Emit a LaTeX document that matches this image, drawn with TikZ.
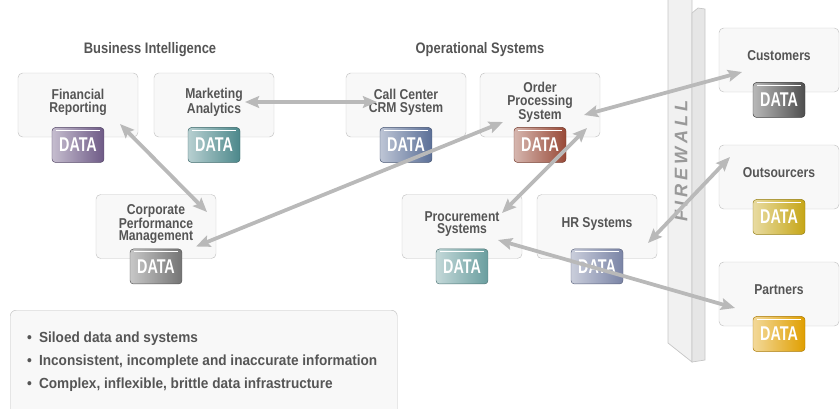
\documentclass[tikz,border=0pt]{standalone}
\usepackage{fontspec}
\setmainfont{Liberation Sans}[FakeStretch=0.85]
\newfontfamily\datafont{Liberation Sans}[FakeStretch=0.72]
\newfontfamily\notefont{Liberation Sans}[FakeStretch=0.93]
\newfontfamily\wallfont{Liberation Sans}[LetterSpace=22]
\usetikzlibrary{arrows.meta,positioning,calc}

\definecolor{labelgray}{HTML}{555555}
\definecolor{boxfill}{HTML}{F8F8F8}
\definecolor{boxline}{HTML}{C4C4C4}
\definecolor{linkgray}{HTML}{B9B9B9}
\definecolor{wallfront}{HTML}{F1F1F1}
\definecolor{wallside}{HTML}{E6E6E6}
\definecolor{walledge}{HTML}{C6C6C6}
\definecolor{wallgray}{HTML}{999999}
% one colour per data store
\definecolor{finpurple}{HTML}{6E5A86}
\definecolor{mktteal}{HTML}{4C888B}
\definecolor{crmblue}{HTML}{5B6F97}
\definecolor{ordrust}{HTML}{984937}
\definecolor{cpmgray}{HTML}{747474}
\definecolor{procteal}{HTML}{6A9E9F}
\definecolor{hrslate}{HTML}{7A84A6}
\definecolor{custgray}{HTML}{4E4E4E}
\definecolor{outsgold}{HTML}{C6A616}
\definecolor{partorange}{HTML}{E09F00}

\tikzset{
  sysbox/.style={draw=boxline, fill=boxfill, rounded corners=4pt,
    minimum width=3.6cm, minimum height=1.92cm, align=center, text depth=0.24cm,
    text=labelgray, font=\fontsize{12.2}{10.6}\selectfont\bfseries},
  datatag/.style={draw=#1!75!black, left color=#1!40!white, right color=#1,
    rounded corners=3pt, minimum width=1.56cm, minimum height=1.05cm, inner sep=0pt,
    text=white, font=\datafont\fontsize{17}{17}\selectfont\bfseries,
    path picture={\draw[white, line width=0.9pt]
      ([shift={(3pt,-2.5pt)}]path picture bounding box.north west) --
      ([shift={(-3pt,-2.5pt)}]path picture bounding box.north east);}},
  link/.style={{Stealth[length=12pt,width=10pt,inset=2pt]}-{Stealth[length=12pt,width=10pt,inset=2pt]},
    draw=linkgray, line width=3.2pt},
  heading/.style={text=labelgray, font=\fontsize{13}{14}\selectfont\bfseries},
  notebox/.style={draw=boxline, fill=boxfill, rounded corners=5pt,
    minimum width=11.61cm, minimum height=3.6cm}
}

\begin{document}
\begin{tikzpicture}[x=0.03cm, y=-0.03cm]
  \useasboundingbox (0,0) rectangle (840,408);

  % firewall slab
  \filldraw[fill=wallfront, draw=walledge, line width=0.6pt]
    (668,-2) -- (692,-2) -- (692,362) -- (668,343) -- cycle;
  \filldraw[fill=wallside, draw=walledge, line width=0.6pt]
    (692,13) -- (698,8) -- (705,9) -- (705,360) -- (692,362) -- cycle;
  \node[rotate=90, text=wallgray, font=\wallfont\fontsize{15.5}{15}\selectfont\bfseries\itshape]
    (wall-label) at (681,161) {FIREWALL};

  \node[heading] (bi-head) at (150,50) {Business Intelligence};
  \node[heading] (ops-head) at (480,50) {Operational Systems};

  \node[sysbox] (fin) at (78,105) {Financial\\Reporting};
  \node[sysbox] (mkt) at (214,105) {Marketing\\Analytics};
  \node[sysbox] (crm) at (406,105) {Call Center\\CRM System};
  \node[sysbox] (ord) at (540,105) {Order\\Processing\\System};
  \node[sysbox] (cpm) at (156,226.5) {Corporate\\Performance\\Management};
  \node[sysbox] (proc) at (462,226.5) {Procurement\\Systems};
  \node[sysbox] (hr) at (597,226.5) {HR Systems};
  \node[sysbox] (cust) at (779,60) {Customers};
  \node[sysbox] (outs) at (779,177) {Outsourcers};
  \node[sysbox] (part) at (779,294) {Partners};

  \node[datatag=finpurple, below=-0.3cm of fin] (fin-data) {DATA};
  \node[datatag=mktteal, below=-0.3cm of mkt] (mkt-data) {DATA};
  \node[datatag=crmblue, below=-0.3cm of crm] (crm-data) {DATA};
  \node[datatag=ordrust, below=-0.3cm of ord] (ord-data) {DATA};
  \node[datatag=cpmgray, below=-0.3cm of cpm] (cpm-data) {DATA};
  \node[datatag=procteal, below=-0.3cm of proc] (proc-data) {DATA};
  \node[datatag=hrslate, below=-0.3cm of hr] (hr-data) {DATA};
  \node[datatag=custgray, below=-0.3cm of cust] (cust-data) {DATA};
  \node[datatag=outsgold, below=-0.3cm of outs] (outs-data) {DATA};
  \node[datatag=partorange, below=-0.3cm of part] (part-data) {DATA};

  % point-to-point links
  \draw[link] ($(mkt)+(31,-3)$) -- ($(crm)+(-29,-3)$);
  \draw[link] ($(fin)+(42,19)$) -- ($(cpm)+(51,-14.5)$);
  \draw[link] ($(cpm)+(40,20)$) -- ($(ord)+(-37,17)$);
  \draw[link] ($(ord)+(44,10)$) -- ($(cust)+(-37,12)$);
  \draw[link] ($(ord)+(47,23)$) -- ($(proc)+(40,-13.5)$);
  \draw[link] ($(hr)+(51,16.5)$) -- ($(outs)+(-49,-20)$);
  \draw[link] ($(proc)+(36,13.5)$) -- ($(part)+(-44,14)$);

  \node[notebox, anchor=north west] (notes) at (10,310) {};
  \node[anchor=north west, inner sep=0pt, align=left, text=labelgray,
    font=\notefont\fontsize{12.5}{19.5}\selectfont\bfseries] (points) at ($(notes.north west)+(17,22)$)
    {\textbullet\hspace{6pt}Siloed data and systems\\
     \textbullet\hspace{6pt}Inconsistent, incomplete and inaccurate information\\
     \textbullet\hspace{6pt}Complex, inflexible, brittle data infrastructure};
\end{tikzpicture}
\end{document}
